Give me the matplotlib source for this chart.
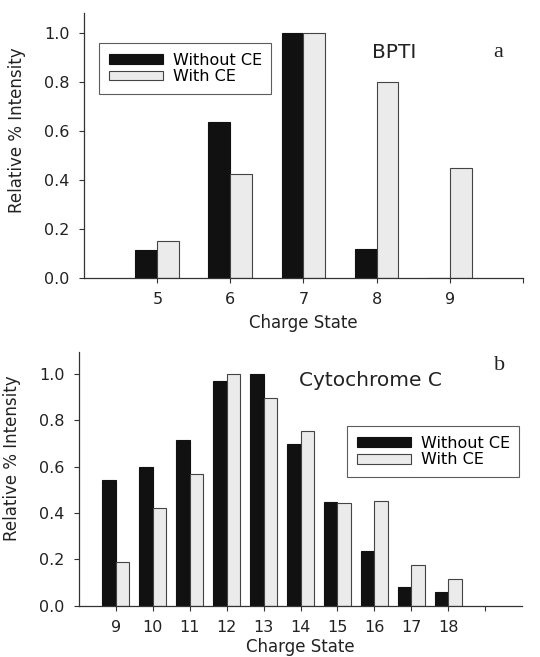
import numpy as np
import matplotlib
matplotlib.use('Agg')
import matplotlib.pyplot as plt

plt.rcParams['font.family'] = ['DejaVu Sans']

# BPTI charge state distribution
bpti_states = [5, 6, 7, 8, 9]
bpti_without = [0.112, 0.634, 1.0, 0.118, 0.0]
bpti_with = [0.152, 0.422, 1.0, 0.801, 0.449]

# Cytochrome C charge state distribution
cyt_states = [9, 10, 11, 12, 13, 14, 15, 16, 17, 18]
cyt_without = [0.542, 0.599, 0.715, 0.971, 1.0, 0.70, 0.446, 0.236, 0.081, 0.059]
cyt_with = [0.19, 0.423, 0.568, 1.0, 0.896, 0.753, 0.442, 0.453, 0.176, 0.117]

DARK = '#111111'
LIGHT = '#ebebeb'
EDGE = '#444444'
TEXT = '#222222'


def draw_panel(ax, states, without, with_ce, width, xlim, ylim, extra_tick,
               ylabel_pos, xlabel_pad):
    x = np.array(states, dtype=float)
    ax.bar(x - width, without, width, align='edge', color=DARK, edgecolor=DARK,
           linewidth=0.8, label='Without CE')
    ax.bar(x, with_ce, width, align='edge', color=LIGHT, edgecolor=EDGE,
           linewidth=0.8, label='With CE')
    ax.set_xlim(*xlim)
    ax.set_ylim(*ylim)
    ax.set_xticks(states + [extra_tick])
    ax.set_xticklabels([str(s) for s in states] + [''])
    ax.set_yticks([0.0, 0.2, 0.4, 0.6, 0.8, 1.0])
    ax.set_yticklabels(['0.0', '0.2', '0.4', '0.6', '0.8', '1.0'])
    for side in ['top', 'right']:
        ax.spines[side].set_visible(False)
    for side in ['left', 'bottom']:
        ax.spines[side].set_color('#333333')
        ax.spines[side].set_linewidth(0.9)
    ax.tick_params(direction='out', length=3.5, width=0.8, colors='#333333',
                   labelsize=11.5, labelcolor=TEXT)
    ax.tick_params(axis='x', pad=7)
    ax.tick_params(axis='y', pad=7)
    ax.set_xlabel('Charge State', fontsize=12, color=TEXT, labelpad=xlabel_pad)
    ax.set_ylabel('Relative % Intensity', fontsize=12, color=TEXT)
    ax.yaxis.set_label_coords(*ylabel_pos)


def add_legend(ax, anchor):
    leg = ax.legend(loc='upper left', bbox_to_anchor=anchor, borderaxespad=0,
                    fancybox=False, edgecolor='#333333', fontsize=11.5,
                    handlelength=3.4, handleheight=0.55, labelspacing=0.1,
                    handletextpad=0.6, borderpad=0.6)
    leg.get_frame().set_linewidth(0.8)
    return leg


fig = plt.figure(figsize=(5.4, 6.57), dpi=100)

ax1 = fig.add_axes([0.156, 0.577, 0.812, 0.403])
draw_panel(ax1, bpti_states, bpti_without, bpti_with, 0.3, (4, 10), (0, 1.08), 10,
           (-0.132, 0.558), 5)
add_legend(ax1, (0.034, 0.887))
ax1.text(0.708, 0.853, 'BPTI', transform=ax1.transAxes, fontsize=14.5,
         ha='center', va='center', color=TEXT)
ax1.text(0.943, 0.853, 'a', transform=ax1.transAxes, fontsize=16,
         family='Liberation Serif', ha='center', va='center', color=TEXT)

ax2 = fig.add_axes([0.146, 0.078, 0.821, 0.386])
draw_panel(ax2, cyt_states, cyt_without, cyt_with, 0.36, (8, 20), (0, 1.095), 19,
           (-0.131, 0.582), 2)
add_legend(ax2, (0.605, 0.708))
ax2.text(0.657, 0.89, 'Cytochrome C', transform=ax2.transAxes, fontsize=14.5,
         ha='center', va='center', color=TEXT)
ax2.text(0.948, 0.949, 'b', transform=ax2.transAxes, fontsize=16,
         family='Liberation Serif', ha='center', va='center', color=TEXT)

fig.savefig('out.png', dpi=100)
